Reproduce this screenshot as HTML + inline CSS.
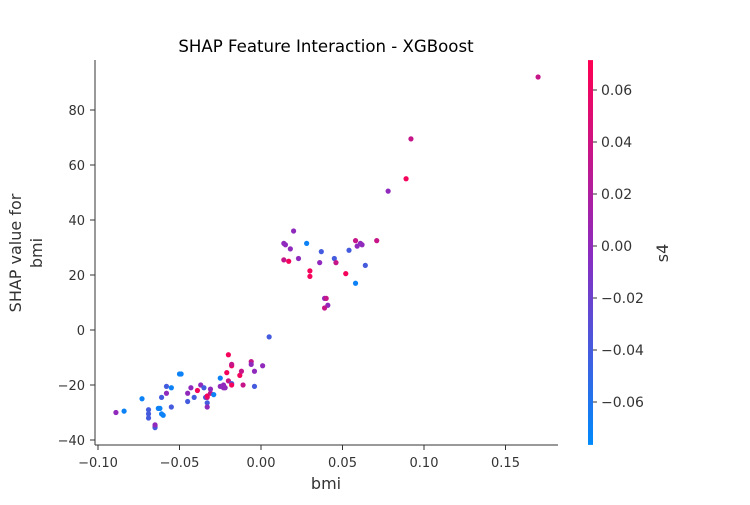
<!DOCTYPE html>
<html><head><meta charset="utf-8"><style>
body{margin:0;background:#fff;font-family:"Liberation Sans","DejaVu Sans",sans-serif}
svg text{font-family:"DejaVu Sans","Liberation Sans",sans-serif;fill:#333}
</style></head><body>
<svg id="c" width="750" height="500">
<defs><linearGradient id="cg" x1="0" y1="1" x2="0" y2="0">
<stop offset="0" stop-color="#008afb"/><stop offset="0.5" stop-color="#8c2bc0"/><stop offset="1" stop-color="#ff0052"/></linearGradient></defs>
<text x="326" y="52" text-anchor="middle" font-size="16.6" style="fill:#000">SHAP Feature Interaction - XGBoost</text>
<g id="plot"></g>
</svg>
<script>
const bmi=[-0.089,-0.084,-0.073,-0.069,-0.069,-0.069,-0.065,-0.065,-0.063,-0.062,-0.061,-0.060,-0.061,-0.058,-0.058,-0.055,-0.055,-0.050,-0.049,-0.045,-0.045,-0.043,-0.041,-0.039,-0.037,-0.035,-0.034,-0.033,-0.033,-0.033,-0.033,-0.031,-0.031,-0.029,-0.025,-0.025,-0.023,-0.023,-0.022,-0.021,-0.020,-0.020,-0.018,-0.018,-0.018,-0.018,-0.013,-0.012,-0.011,-0.006,-0.006,-0.004,-0.004,0.001,-0.065,0.005,
0.020,0.014,0.015,0.018,0.028,0.014,0.017,0.023,0.037,0.036,0.045,0.046,0.030,0.030,0.054,0.058,0.061,0.062,0.059,0.071,0.064,0.052,0.058,0.039,0.040,0.041,0.039,0.089,0.092,0.078,0.170];
const shap=[-30,-29.5,-25,-29,-30.5,-32,-35,-35.5,-28.5,-28.5,-30.5,-31,-24.5,-20.5,-23,-28,-21,-16,-16,-23,-26,-21,-24.5,-22,-20,-21,-24.5,-26.5,-28,-24.5,-24,-23,-21.5,-23.5,-17.5,-20.5,-21,-20,-21,-15.5,-18.5,-9,-13,-12.5,-19.5,-20,-16.5,-15,-20,-11.5,-12.5,-20.5,-15,-13,-34.5,-2.5,
36,31.5,31,29.5,31.5,25.5,25,26,28.5,24.5,26,24.5,21.5,19.5,29,32.5,31.5,31,30.5,32.5,23.5,20.5,17,11.5,11.5,9,8,55,69.5,50.5,92];
const s4=[0.0,-0.07,-0.07,-0.04,-0.04,-0.04,0.035,-0.04,-0.07,-0.07,-0.07,-0.07,-0.04,-0.04,0.0,-0.04,-0.07,-0.07,-0.07,0.0,-0.04,0.0,-0.04,0.065,0.0,-0.04,-0.04,-0.04,0.0,0.035,0.065,0.035,0.0,-0.07,-0.07,0.0,0.0,0.0,0.0,0.065,0.035,0.065,0.065,0.035,-0.04,0.065,0.065,0.035,0.035,0.035,0.0,-0.04,0.0,0.0,0.0,-0.04,
0.0,0.0,0.0,0.0,-0.07,0.035,0.065,0.0,-0.04,0.0,-0.04,0.035,0.065,0.065,-0.04,0.035,0.0,0.0,0.0,0.035,-0.04,0.065,-0.07,0.0,0.035,0.0,0.035,0.065,0.035,0.0,0.035];
const xTicks=[-0.10,-0.05,0.00,0.05,0.10,0.15];
const yTicks=[-40,-20,0,20,40,60,80];
const cTicks=[-0.06,-0.04,-0.02,0.00,0.02,0.04,0.06];
const cMin=-0.0765,cMax=0.0715;
const X=v=>261+v*1630, Y=v=>330-v*2.75, C=v=>246-v*2600;
function col(v){let t=(v-cMin)/(cMax-cMin);t=Math.max(0,Math.min(1,t));
 const a=[0,138,251],m=[140,43,192],b=[255,0,82];let p,q,u;
 if(t<0.5){p=a;q=m;u=t*2}else{p=m;q=b;u=(t-0.5)*2}
 return `rgb(${p.map((c,i)=>Math.round(c+(q[i]-c)*u)).join(',')})`;}
const NS='http://www.w3.org/2000/svg',g=document.getElementById('plot');
function mk(t,a,txt){const e=document.createElementNS(NS,t);for(const k in a)e.setAttribute(k,a[k]);if(txt!==undefined)e.textContent=txt;g.appendChild(e);return e;}
let e;
e=mk('line',{x1:95,y1:60,x2:95,y2:445,stroke:'#333','stroke-width':1});


e=mk('line',{x1:95,y1:445,x2:558,y2:445,stroke:'#333','stroke-width':1});


xTicks.forEach(v=>{
 e=mk('line',{x1:X(v),y1:445,x2:X(v),y2:450,stroke:'#333'});
 
 
 e=mk('text',{x:X(v),y:467,'text-anchor':'middle','font-size':13},v.toFixed(2).replace('-','−'));
 
 
});
yTicks.forEach(v=>{
 e=mk('line',{x1:90,y1:Y(v),x2:95,y2:Y(v),stroke:'#333'});
 
 
 e=mk('text',{x:85,y:Y(v)+5,'text-anchor':'end','font-size':13},String(v).replace('-','−'));
 
 
});
e=mk('text',{x:326,y:489,'text-anchor':'middle','font-size':16},'bmi');


e=mk('text',{x:0,y:0,'text-anchor':'middle','font-size':16,transform:'translate(21,253) rotate(-90)'},'SHAP value for');


e=mk('text',{x:0,y:0,'text-anchor':'middle','font-size':16,transform:'translate(42,253) rotate(-90)'},'bmi');


bmi.forEach((v,i)=>{
 e=mk('circle',{cx:X(v),cy:Y(shap[i]),r:2.6,fill:col(s4[i])});
 
 
});
e=mk('rect',{x:588,y:C(cMax),width:5,height:C(cMin)-C(cMax),fill:'url(#cg)'});


cTicks.forEach(v=>{
 e=mk('line',{x1:593,y1:C(v),x2:597,y2:C(v),stroke:'#333'});
 
 
 e=mk('text',{x:601,y:C(v)+5,'font-size':14},v.toFixed(2).replace('-','−'));
 
 
});
e=mk('text',{x:0,y:0,'text-anchor':'middle','font-size':16,transform:'translate(668,253) rotate(-90)'},'s4');


</script>
</body></html>
